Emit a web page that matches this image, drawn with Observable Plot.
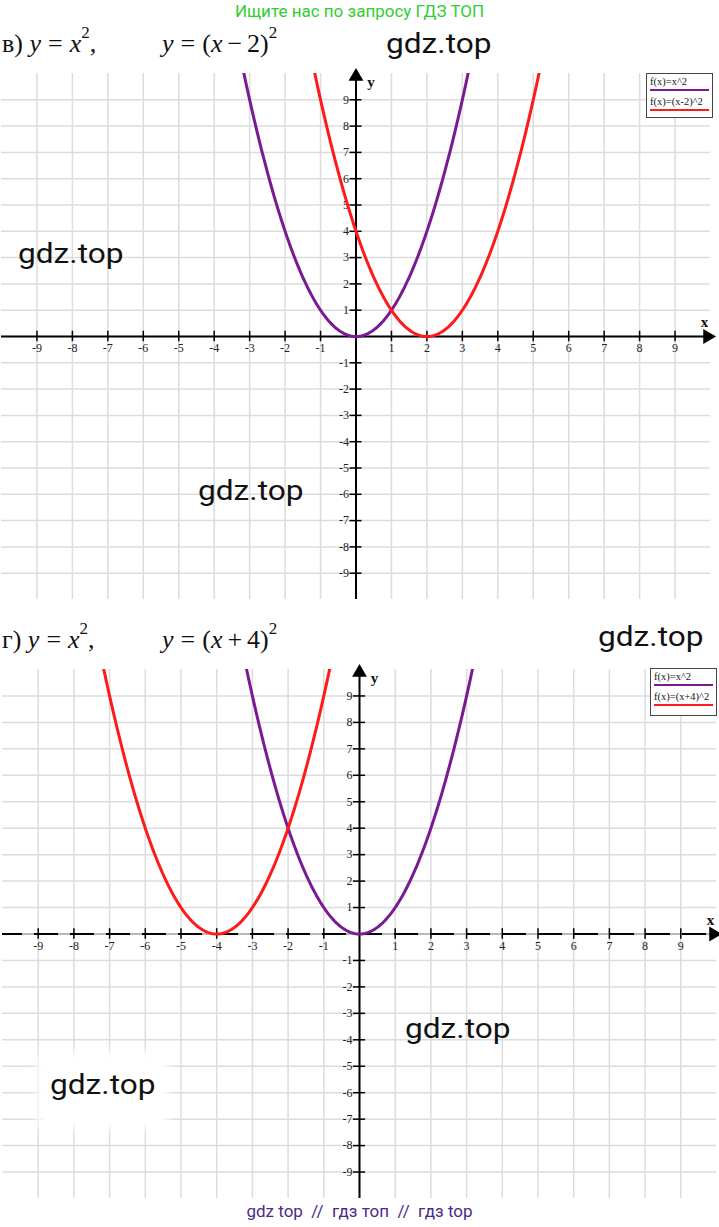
<!DOCTYPE html>
<html>
<head>
<meta charset="utf-8">
<script src="https://cdn.jsdelivr.net/npm/d3@7"></script>
<script src="https://cdn.jsdelivr.net/npm/@observablehq/plot@0.6"></script>
<style>
  body { margin: 0; background: #fff; }
  #page { position: relative; width: 719px; height: 1227px; overflow: hidden; background: #fff; }
  .abs { position: absolute; }
  .title { font-family: "Liberation Serif", serif; font-size: 26px; line-height: 26px; white-space: nowrap; color: #111; }
  .title i { font-style: italic; }
  .title .op { padding: 0 7px; }
  .title .op2 { padding: 0 5px; }
  .title sup { font-size: 17px; line-height: 0; position: relative; top: -4px; }
  .wm { font-family: Roboto, sans-serif; font-size: 28px; line-height: 28px; color: #111; white-space: nowrap; transform: scaleX(1.13); transform-origin: 0 0; }
  .legend { border: 1px solid #444; background: #fff; font-family: "Liberation Serif", serif; font-size: 10.5px; line-height: 10px; color: #111; box-sizing: border-box; padding: 3px 3px 0 3px; }
  .legend .row { height: 20px; }
  .legend .swatch { height: 2px; margin-top: 2px; }
  .plotbox { position: absolute; left: 0; }
  .blank { position: absolute; background: #fff; box-shadow: 0 0 10px 8px #fff; }
</style>
</head>
<body>
<div id="page">
  <div class="abs" id="search" style="left:0;width:719px;top:1px;text-align:center;font-family:Roboto,sans-serif;font-size:17px;color:#33cc33;">Ищите нас по запросу ГДЗ ТОП</div>

  <div class="plotbox" id="plotTop" style="top:60px"></div>
  <div class="plotbox" id="plotBottom" style="top:640px"></div>

  <div class="abs title" style="left:2px;top:31px">в) <i>y</i><span class="op">=</span><i>x</i><sup>2</sup>,</div>
  <div class="abs title" style="left:162px;top:31px"><i>y</i><span class="op">=</span>(<i>x</i><span class="op2">−</span>2)<sup>2</sup></div>
  <div class="abs title" style="left:2px;top:627px">г) <i>y</i><span class="op">=</span><i>x</i><sup>2</sup>,</div>
  <div class="abs title" style="left:162px;top:627px"><i>y</i><span class="op">=</span>(<i>x</i><span class="op2">+</span>4)<sup>2</sup></div>

  <div class="blank" style="left:45px;top:1060px;width:115px;height:60px"></div>

  <div class="abs wm" style="left:386px;top:30px">gdz.top</div>
  <div class="abs wm" style="left:18px;top:240px">gdz.top</div>
  <div class="abs wm" style="left:198px;top:477px">gdz.top</div>
  <div class="abs wm" style="left:598px;top:623px">gdz.top</div>
  <div class="abs wm" style="left:405px;top:1015px">gdz.top</div>
  <div class="abs wm" style="left:50px;top:1071px">gdz.top</div>

  <div class="abs" id="legendTop" style="left:646px;top:73px;width:67px;height:45px"></div>
  <div class="abs" id="legendBottom" style="left:650px;top:668px;width:67px;height:48px"></div>

  <div class="abs" style="left:0;width:719px;top:1201px;text-align:center;font-family:Roboto,sans-serif;font-size:17px;color:#4b2a8c;white-space:pre;">gdz top  //  гдз топ  //  гдз top</div>
</div>
<script>
// Tick values shown on both axes (zero is left unlabeled)
const tickValues = [-9, -8, -7, -6, -5, -4, -3, -2, -1, 1, 2, 3, 4, 5, 6, 7, 8, 9];
// Grid lines at every integer
const gridValues = [-9, -8, -7, -6, -5, -4, -3, -2, -1, 0, 1, 2, 3, 4, 5, 6, 7, 8, 9];
// Axis extent in both directions
const axisMin = -10;
const axisMax = 10;

// Parabolas y = (x - h)^2, given by their vertex shift h
const seriesNames = ["f(x)=x^2", "f(x)=(x-2)^2"];
const seriesShiftsTop = [0, 2];
const seriesNamesBottom = ["f(x)=x^2", "f(x)=(x+4)^2"];
const seriesShiftsBottom = [0, -4];
const seriesColors = ["#7a1a92", "#ff1a1a"];

// Sample positions along x for drawing the curves
const sampleX = d3.range(-10, 10.0001, 0.05);

function parabolaPoints(names, shifts) {
  const pts = [];
  names.forEach((name, i) => {
    for (const x of sampleX) pts.push({series: name, color: seriesColors[i], x, y: (x - shifts[i]) ** 2});
  });
  return pts;
}

function drawChart({names, shifts, height, mt, mb, ml, mr, dashedAxis}) {
  const pts = parabolaPoints(names, shifts);
  const gridStyle = {stroke: "#dcdcdc", strokeWidth: 1.5};
  const axisMarks = dashedAxis
    ? [
        Plot.ruleY([0], {x1: axisMin, x2: axisMax, stroke: "#b8b8b8", strokeWidth: 2}),
        Plot.ruleY([0], {x1: axisMin, x2: axisMax, stroke: "#000", strokeWidth: 2, strokeDasharray: "24,12", strokeDashoffset: 4})
      ]
    : [Plot.ruleY([0], {x1: axisMin, x2: axisMax, stroke: "#000", strokeWidth: 2})];
  return Plot.plot({
    width: 719,
    height,
    marginTop: mt, marginBottom: mb, marginLeft: ml, marginRight: mr,
    x: {domain: [axisMin, axisMax], axis: null},
    y: {domain: [axisMin, axisMax], axis: null},
    style: {background: "transparent", overflow: "visible"},
    marks: [
      Plot.ruleX(gridValues, {x: d => d, y1: axisMin, y2: axisMax, ...gridStyle}),
      Plot.ruleY(gridValues, {y: d => d, x1: axisMin, x2: axisMax, ...gridStyle}),
      ...axisMarks,
      Plot.ruleX([0], {y1: axisMin, y2: axisMax, stroke: "#000", strokeWidth: 2}),
      Plot.dot([axisMax], {x: d => d, y: 0, symbol: "triangle", rotate: 90, r: 5.5, dx: -3, fill: "#000", stroke: "none"}),
      Plot.dot([axisMax], {x: 0, y: d => d, symbol: "triangle", r: 5.5, dy: 3, fill: "#000", stroke: "none"}),
      Plot.ruleX(tickValues, {x: d => d, y1: -0.2, y2: 0.2, stroke: "#000", strokeWidth: 1.5}),
      Plot.ruleY(tickValues, {y: d => d, x1: -0.17, x2: 0.17, stroke: "#000", strokeWidth: 1.5}),
      Plot.text(tickValues, {x: d => d, y: 0, dy: 12, text: d => String(d), fontFamily: "Liberation Serif", fontSize: 12, fill: "#222"}),
      Plot.text(tickValues, {x: 0, y: d => d, dx: -7, textAnchor: "end", text: d => String(d), fontFamily: "Liberation Serif", fontSize: 12, fill: "#222"}),
      Plot.text(["x"], {x: axisMax, y: 0, dx: -6, dy: -14, text: d => d, fontFamily: "Liberation Serif", fontWeight: "bold", fontSize: 15, fill: "#111"}),
      Plot.text(["y"], {x: 0, y: axisMax, dx: 15, dy: 9, text: d => d, fontFamily: "Liberation Serif", fontWeight: "bold", fontSize: 15, fill: "#111"}),
      Plot.line(pts, {x: "x", y: "y", z: "series", stroke: "color", strokeWidth: 3, clip: true})
    ]
  });
}

function drawLegend(el, names) {
  el.className = "abs legend";
  names.forEach((name, i) => {
    const row = document.createElement("div");
    row.className = "row";
    row.innerHTML = `<div>${name}</div><div class="swatch" style="background:${seriesColors[i]}"></div>`;
    el.appendChild(row);
  });
}

document.getElementById("plotTop").appendChild(drawChart({
  names: seriesNames, shifts: seriesShiftsTop,
  height: 560, mt: 13, mb: 21, ml: 1, mr: 9, dashedAxis: false
}));
document.getElementById("plotBottom").appendChild(drawChart({
  names: seriesNamesBottom, shifts: seriesShiftsBottom,
  height: 580, mt: 29, mb: 22, ml: 2, mr: 3, dashedAxis: true
}));
drawLegend(document.getElementById("legendTop"), seriesNames);
drawLegend(document.getElementById("legendBottom"), seriesNamesBottom);
</script>
</body>
</html>
